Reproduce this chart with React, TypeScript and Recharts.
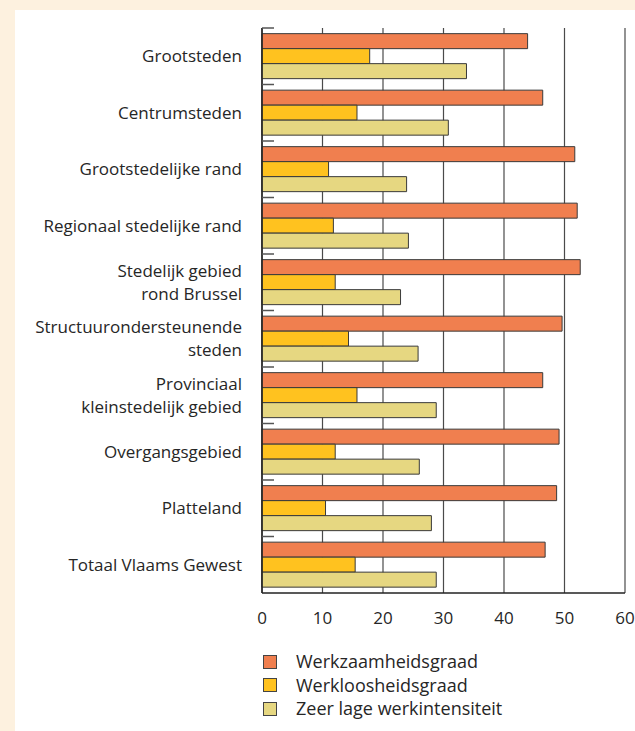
import React from "react";
import { BarChart, Bar, XAxis, YAxis, CartesianGrid } from "recharts";

const categories = [
  "Grootsteden",
  "Centrumsteden",
  "Grootstedelijke rand",
  "Regionaal stedelijke rand",
  "Stedelijk gebied\nrond Brussel",
  "Structuurondersteunende\nsteden",
  "Provinciaal\nkleinstedelijk gebied",
  "Overgangsgebied",
  "Platteland",
  "Totaal Vlaams Gewest",
];
const werkzaamheidsgraad = [43.9, 46.4, 51.7, 52.1, 52.6, 49.6, 46.4, 49.1, 48.7, 46.8];
const werkloosheidsgraad = [17.8, 15.7, 11.0, 11.8, 12.1, 14.3, 15.7, 12.1, 10.5, 15.4];
const zeerLageWerkintensiteit = [33.8, 30.8, 23.9, 24.2, 22.9, 25.8, 28.8, 26.0, 28.0, 28.8];
const xTicks = [0, 10, 20, 30, 40, 50, 60];

const seriesNames = ["Werkzaamheidsgraad", "Werkloosheidsgraad", "Zeer lage werkintensiteit"];
const seriesColors = ["#F07F4F", "#FFC21F", "#E6D781"];

const data = categories.map((name, i) => ({
  name,
  a: werkzaamheidsgraad[i],
  b: werkloosheidsgraad[i],
  c: zeerLageWerkintensiteit[i],
}));

const FONT = "'Open Sans', sans-serif";
const TEXT = "#262626";

const YTick = (props: any) => {
  const { x, y, payload } = props;
  const lines = String(payload.value).split("\n");
  const lh = 23.4;
  const half = payload.offset ?? 28.25;
  const startDy = -((lines.length - 1) * lh) / 2 + 6;
  return (
    <g>
      <line x1={x} x2={x + 12} y1={y - half} y2={y - half} stroke="#555" strokeWidth={1.5} />
      <text x={x - 20} y={y} textAnchor="end" fill={TEXT} fontSize={17} fontFamily={FONT}>
        {lines.map((l, i) => (
          <tspan key={i} x={x - 20} dy={i === 0 ? startDy : lh}>
            {l}
          </tspan>
        ))}
      </text>
    </g>
  );
};

export default function App() {
  return (
    <div
      style={{
        position: "absolute",
        left: 0,
        top: 0,
        width: 635,
        height: 731,
        background: "#FDF1DF",
        overflow: "hidden",
      }}
    >
      <div
        style={{
          position: "absolute",
          left: 15,
          top: 10,
          width: 620,
          height: 721,
          background: "#FFFFFF",
        }}
      >
        <BarChart
          width={620}
          height={625}
          data={data}
          layout="vertical"
          margin={{ top: 18, right: 10, left: 0, bottom: 12 }}
          barCategoryGap="10%"
          barGap={0}
        >
          <CartesianGrid horizontal={false} vertical={true} stroke="#4a4a4a" strokeWidth={1.2} />
          <XAxis
            type="number"
            domain={[0, 60]}
            ticks={xTicks}
            tickLine={false}
            tickSize={0}
            tickMargin={19}
            axisLine={{ stroke: "#222", strokeWidth: 1.5 }}
            tick={{ fill: TEXT, fontSize: 17, fontFamily: FONT }}
            height={30}
            interval={0}
          />
          <YAxis
            type="category"
            dataKey="name"
            width={247}
            tickLine={false}
            tickSize={0}
            tickMargin={0}
            axisLine={{ stroke: "#222", strokeWidth: 1.5 }}
            tick={<YTick />}
            interval={0}
          />
          <Bar dataKey="a" name={seriesNames[0]} fill={seriesColors[0]} stroke="#3a3a3a" strokeWidth={1} isAnimationActive={false} />
          <Bar dataKey="b" name={seriesNames[1]} fill={seriesColors[1]} stroke="#3a3a3a" strokeWidth={1} isAnimationActive={false} />
          <Bar dataKey="c" name={seriesNames[2]} fill={seriesColors[2]} stroke="#3a3a3a" strokeWidth={1} isAnimationActive={false} />
        </BarChart>
        <div style={{ position: "absolute", left: 248, top: 640 }}>
          {seriesNames.map((n, i) => (
            <div key={n} style={{ display: "flex", alignItems: "center", height: 23.5 }}>
              <div
                style={{
                  width: 12,
                  height: 12,
                  background: seriesColors[i],
                  border: "1px solid #444",
                  marginRight: 19,
                }}
              />
              <span style={{ fontFamily: FONT, fontSize: 18, color: TEXT, lineHeight: "23.5px" }}>{n}</span>
            </div>
          ))}
        </div>
      </div>
    </div>
  );
}
